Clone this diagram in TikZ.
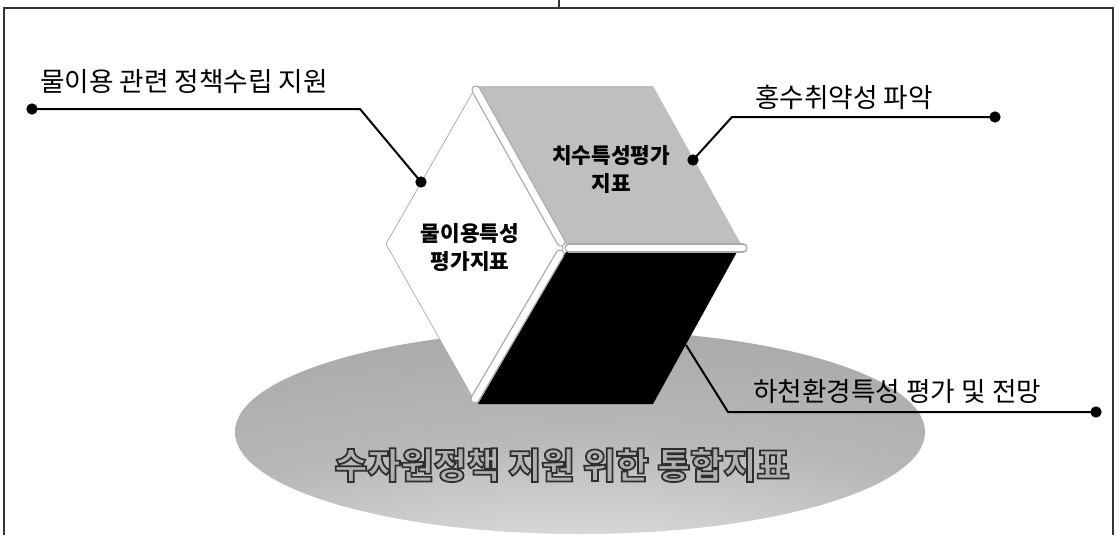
\documentclass[tikz,border=0pt]{standalone}
\usepackage{fontspec}
\setmainfont{Noto Sans CJK KR}
% soft grey platter, lighter towards its lower rim
\pgfdeclareradialshading{platter}{\pgfpoint{0bp}{-42bp}}{%
  color(0bp)=(gray!12); color(14bp)=(gray!34); color(30bp)=(gray!56);
  color(48bp)=(gray!66); color(110bp)=(gray!68)}
% embossed caption: grey letters with a dark stroked rim
\newcommand{\embossed}[1]{{\color{gray!62}%
  \special{pdf:code 2 Tr 1.3 w 0.18 0.18 0.18 RG}#1\special{pdf:code 0 Tr}}}
\begin{document}
\begin{tikzpicture}[x=0.75pt,y=-0.75pt,
  sidetext/.style={font=\fontsize{20}{22}\selectfont, inner sep=0pt, anchor=west},
  facetext/.style={font=\bfseries\fontsize{16}{21}\selectfont, align=center, inner sep=0pt},
  conn/.style={line width=1.5pt, black, line join=round},
  endpt/.style={circle, fill=black, inner sep=0pt, minimum size=8.5pt},
  rim/.style={line cap=round, line width=7pt, draw=gray!65},
  rimfill/.style={line cap=round, line width=5pt, draw=white},
  frameline/.style={draw=black!80, line width=1pt},
  titletext/.style={font=\bfseries\fontsize{27}{30}\selectfont, inner sep=0pt}
]
\useasboundingbox (0,0) rectangle (1119,535);
\fill[white] (0,0) rectangle (1119,535);

% outer frame
\draw[frameline] (4,535) -- (4,8) -- (1113,8) -- (1113,535);
\draw[frameline] (559,0) -- (559,8);

% base platter
\shade[shading=platter] (580,432) ellipse [x radius=345, y radius=102];
\node[titletext] (title) at (562,465) {\embossed{수자원정책 지원 위한 통합지표}};

% cube faces
\fill[gray!50] (478,86) -- (653,86) -- (741,244) -- (566,244) -- cycle;
\fill[black] (566,252) -- (737,252) -- (653,404) -- (478,404) -- cycle;
\draw[gray!70, line width=0.5pt, fill=white] (474,90) -- (386,244) -- (474,400) -- (563,248) -- cycle;

% white rims between faces
\draw[rim] (476,90) -- (561,242);
\draw[rimfill] (476,90) -- (561,242);
\draw[rim] (560,254) -- (475,399);
\draw[rimfill] (560,254) -- (475,399);
\draw[rim] (569,248) -- (743,248);
\draw[rimfill] (569,248) -- (743,248);

% face captions
\node[facetext] (water) at (470,248) {물이용특성\\평가지표};
\node[facetext] (flood) at (611,169) {치수특성평가\\지표};

% callout texts
\node[sidetext] (t1) at (40,82) {물이용 관련 정책수립 지원};
\node[sidetext] (t2) at (755,97) {홍수취약성 파악};
\node[sidetext] (t3) at (753,391) {하천환경특성 평가 및 전망};

% callout connectors
\node[endpt] (a1) at (32,109) {};
\coordinate (k1) at (360,109);
\node[endpt] (a2) at (421,182) {};
\draw[conn] (a1.center) -- (k1) -- (a2.center);

\node[endpt] (b1) at (693,160) {};
\coordinate (k2) at (732,117);
\node[endpt] (b2) at (995,117) {};
\draw[conn] (b1.center) -- (k2) -- (b2.center);

\coordinate (c1) at (686,345);
\coordinate (k3) at (728,412);
\node[endpt] (c2) at (1096,412) {};
\draw[conn] (c1) -- (k3) -- (c2.center);
\end{tikzpicture}
\end{document}
